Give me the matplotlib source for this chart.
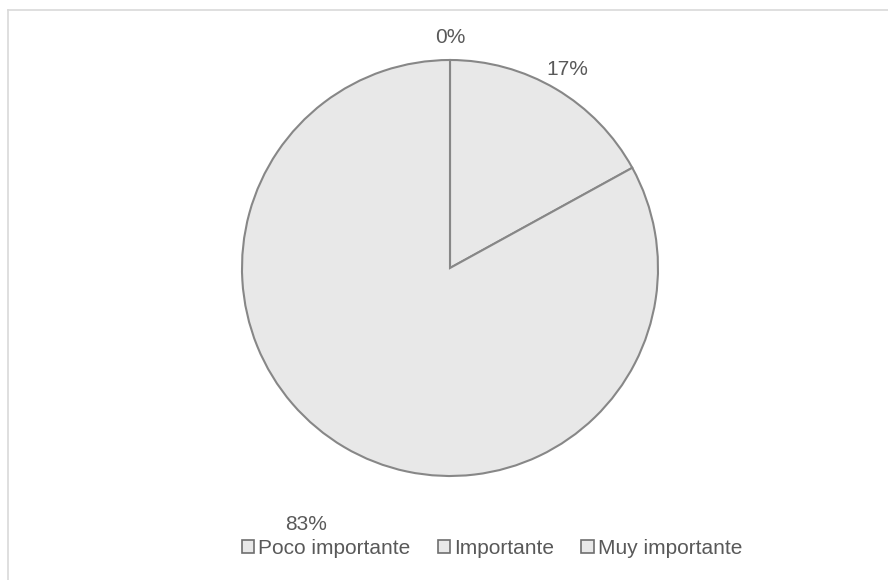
import matplotlib
matplotlib.use('Agg')
import matplotlib.pyplot as plt
from matplotlib.lines import Line2D
from matplotlib.patches import Patch

plt.rc('font', family='Liberation Sans', size=15)

categories = ['Poco importante', 'Importante', 'Muy importante']
values = [0, 17, 83]
labels = ['0%', '17%', '83%']

fill = '#e8e8e8'
edge = '#878787'
text_col = '#595959'

W, H = 888, 580
fig = plt.figure(figsize=(W / 100, H / 100), dpi=100)

# chart area border (top and left only visible)
fig.add_artist(Line2D([8 / W, 1], [1 - 10 / H] * 2, color='#d9d9d9', lw=1.2))
fig.add_artist(Line2D([8 / W] * 2, [0, 1 - 10 / H], color='#d9d9d9', lw=1.2))

# pie centered at (450, 268) px, radius 208 px
cx, cy, r = 450, 268, 208
ax = fig.add_axes([(cx - r) / W, (H - cy - r) / H, 2 * r / W, 2 * r / H])

wedges, texts = ax.pie(values, labels=labels, startangle=90, counterclock=False,
                       colors=[fill] * 3, labeldistance=1.11,
                       wedgeprops=dict(edgecolor=edge, linewidth=1.5),
                       textprops=dict(color=text_col, fontsize=15))
for t in texts:
    t.set_ha('center')
    t.set_va('center')
# 83% label sits further out in the reference
x, y = texts[2].get_position()
texts[2].set_position((x * 1.36 / 1.11, y * 1.435 / 1.11))

ax.set_xlim(-1, 1)
ax.set_ylim(-1, 1)
ax.set_aspect('equal')
ax.axis('off')

handles = [Patch(facecolor=fill, edgecolor='#6e6e6e', lw=1.2) for _ in categories]
fig.legend(handles, categories, loc='center', bbox_to_anchor=(492 / W, 1 - 548 / H),
           ncol=3, frameon=False, fontsize=15, handlelength=0.6, handleheight=0.6,
           handletextpad=0.2, columnspacing=1.3, labelcolor=text_col)

fig.savefig('out.png', dpi=100)
